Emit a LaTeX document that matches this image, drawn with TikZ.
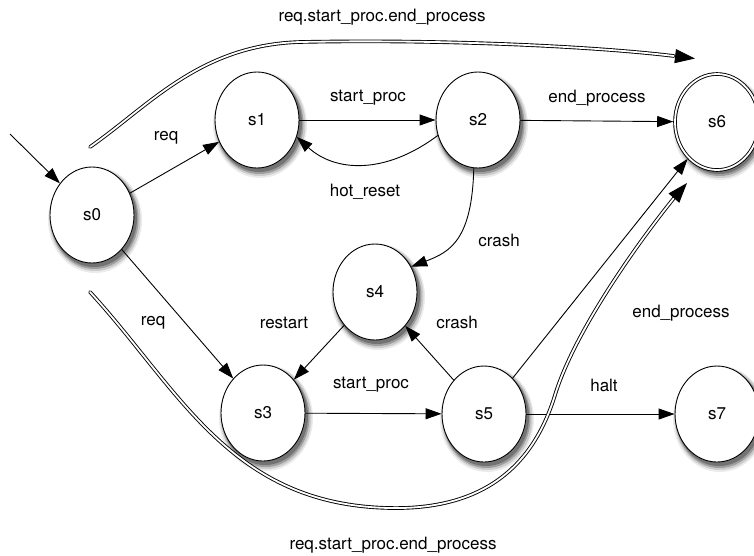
\documentclass[tikz,border=0pt]{standalone}
\usepackage{fontspec}
\setmainfont{TeX Gyre Heros}
\usetikzlibrary{arrows.meta,shapes.geometric,backgrounds}
\colorlet{shA}{black!8}
\colorlet{shB}{black!20}
\colorlet{shC}{black!38}
\colorlet{shD}{black!55}
\begin{document}
\begin{tikzpicture}[x=1pt,y=-1pt,
  state/.style={ellipse, draw, line width=0.9pt, fill=white, minimum width=84pt, minimum height=96pt, inner sep=0pt,
    font=\fontsize{17}{20}\selectfont},
  final/.style={state, double, double distance=1.8pt, outer sep=1.8pt},
  trans/.style={draw, line width=0.9pt, -{Triangle[length=16pt,width=11pt]}},
  dbl/.style={draw, line width=0.9pt, double, double distance=1.8pt, line cap=round},
  dbltip/.style={draw, line width=0.9pt, -{Triangle[length=20pt,width=14pt]}},
  lbl/.style={font=\fontsize{17}{20}\selectfont, inner sep=0pt}
]
\useasboundingbox (0,0) rectangle (754,555);

% states
\node[state] (s0) at (92,215) {s0};
\node[state] (s1) at (257,120) {s1};
\node[state] (s2) at (478,120) {s2};
\node[final] (s6) at (717,122) {s6};
\node[state] (s4) at (375,292) {s4};
\node[state] (s3) at (263,413) {s3};
\node[state] (s5) at (484,414) {s5};
\node[state] (s7) at (717,414) {s7};

% soft shadows behind the states
\begin{scope}[on background layer]
\foreach \n in {s0,s1,s2,s4,s3,s5,s7,s6}{
  \fill[shA] ([shift={(3,5)}]\n.center) ellipse [x radius=47, y radius=53];
  \fill[shB] ([shift={(3,4.5)}]\n.center) ellipse [x radius=45.5, y radius=51.5];
  \fill[shC] ([shift={(2.5,4)}]\n.center) ellipse [x radius=44, y radius=50];
  \fill[shD] ([shift={(2,3)}]\n.center) ellipse [x radius=43, y radius=49];
}
\end{scope}

% initial arrow
\coordinate (init) at (10,134);
\draw[trans] (init) -- (s0);

% transitions
\draw[trans] (s0) -- (s1);
\draw[trans] (s0) -- (s3);
\draw[trans] (s1) -- (s2);
\draw[trans] (s2) -- (s6);
\draw[trans] (s2.201) .. controls (385,175) and (335,172) .. (s1.337);
\draw[trans] (s2.265) .. controls (472,240) and (450,252) .. (s4.35);
\draw[trans] (s4) -- (s3);
\draw[trans] (s5) -- (s4);
\draw[trans] (s3) -- (s5);
\draw[trans] (s5) -- (s6);
\draw[trans] (s5) -- (s7);

% double (path) transitions
\coordinate (t0) at (90,147);
\coordinate (t1) at (674,56);
\coordinate (t2) at (695,58.5);
\draw[dbl] (t0) .. controls (150,105) and (200,45) .. (300,42)
               .. controls (450,39) and (600,47) .. (t1);
\draw[dbltip] (t1) -- (t2);

\coordinate (b0) at (90,292);
\coordinate (b1) at (674,198);
\coordinate (b2) at (687,183);
\draw[dbl] (b0) .. controls (180,390) and (230,505) .. (390,508)
               .. controls (490,510) and (535,460) .. (555,395)
               .. controls (575,330) and (640,240) .. (b1);
\draw[dbltip] (b1) -- (b2);

% labels
\node[lbl] (ltop) at (382,17) {req.start\_proc.end\_process};
\node[lbl] (lbot) at (393,545) {req.start\_proc.end\_process};
\node[lbl] (lreq1) at (166,138) {req};
\node[lbl] (lreq2) at (153,323) {req};
\node[lbl] (lsp1) at (368,98) {start\_proc};
\node[lbl] (lep1) at (597,98) {end\_process};
\node[lbl] (lhr) at (365,192) {hot\_reset};
\node[lbl] (lcr1) at (499,240) {crash};
\node[lbl] (lrs) at (284,323) {restart};
\node[lbl] (lcr2) at (457,322) {crash};
\node[lbl] (lsp2) at (371,385) {start\_proc};
\node[lbl] (lhalt) at (604,385) {halt};
\node[lbl] (lep2) at (681,313) {end\_process};
\end{tikzpicture}
\end{document}
